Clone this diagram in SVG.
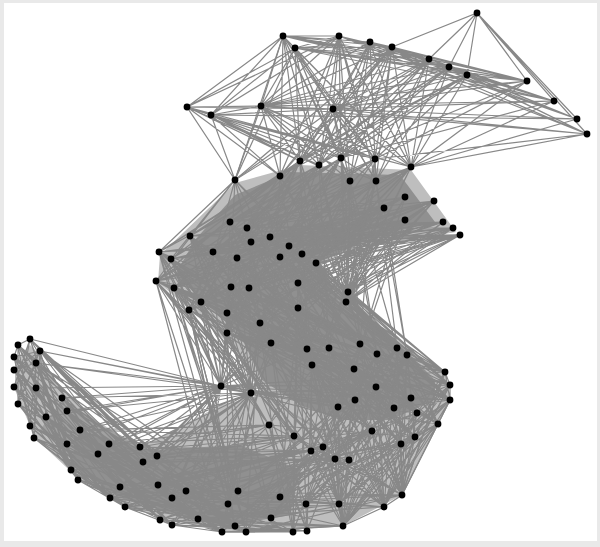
<svg xmlns="http://www.w3.org/2000/svg" width="600" height="547" viewBox="0 0 600 547">
<style>.e{fill:none;stroke:#888;stroke-width:1.2}.u{fill:#909090;stroke:none}.s{fill:#888;opacity:.55;stroke:none}circle{fill:#000;r:3.4px}</style>
<rect width="600" height="547" fill="#e9e9e9"/><rect x="4" y="3" width="593" height="538" fill="#fff"/>
<g id="connectors">
<polygon class="s" points="160,255 235,183 300,165 411,170 456,232 350,250 318,264 345,300 445,375 450,400 438,424 340,445 262,395 230,345 158,282"/>
<polygon class="s" points="62,400 140,447 221,405 262,395 340,440 438,424 402,495 343,526 222,532 125,507 40,430"/>
<polygon class="s" points="30,345 15,360 15,390 35,438 80,480 125,503 150,450 100,425 62,390 40,355"/>
<polygon class="u" points="195,240 235,195 290,172 400,175 435,222 370,238 320,262 338,300 405,350 435,380 435,400 390,420 340,420 300,405 262,380 240,335 175,275"/>
<polygon class="u" points="80,430 110,440 150,450 240,445 300,470 290,515 222,527 125,500 70,465"/>
<path class="e" d="M283 36 339 36 527 81 283 36 554 101 339 36 577 119 370 42 527 81 392 47 554 101 295 48 527 81 429 59 554 101 449 67 527 81 467 75 554 101 339 36 587 134 370 42 554 101 392 47 527 81 339 36 467 75 283 36 449 67 295 48 467 75 370 42 577 119 467 75 587 134 449 67 577 119 429 59 527 81 477 13 429 59 477 13 449 67 477 13 467 75 477 13 392 47 477 13 527 81 477 13 577 119 477 13 587 134 477 13 554 101 283 36 392 47 295 48 429 59 339 36 429 59 283 36 370 42 295 48 339 36 295 48 370 42 392 47 295 48 449 67"/>
<path class="e" d="M187 107 283 36 211 115 295 48 187 107 295 48 261 106 283 36 333 109 295 48 261 106 339 36 333 109 370 42 261 106 392 47 333 109 429 59 261 106 449 67 333 109 467 75 261 106 370 42 333 109 392 47 261 106 429 59 333 109 339 36 261 106 467 75 333 109 449 67 333 109 283 36 261 106 295 48 211 115 339 36 187 107 333 109 211 115 261 106 187 107 211 115 333 109 554 101 261 106 577 119 333 109 587 134 261 106 527 81 333 109 577 119 211 115 333 109"/>
<path class="e" d="M283 36 300 161 295 48 319 165 283 36 280 176 339 36 341 158 370 42 300 161 392 47 319 165 429 59 341 158 449 67 300 161 467 75 375 159 283 36 235 180 295 48 411 167 339 36 319 165 370 42 350 181 392 47 280 176 429 59 376 181 449 67 319 165 467 75 411 167 295 48 375 159 283 36 341 158 339 36 350 181 370 42 411 167 392 47 235 180 429 59 300 161 449 67 411 167 467 75 341 158 295 48 341 158 283 36 319 165 339 36 375 159 370 42 376 181 392 47 375 159 429 59 411 167 449 67 280 176 467 75 300 161 295 48 350 181 283 36 411 167 339 36 300 161 370 42 319 165 392 47 341 158 429 59 280 176 449 67 341 158 467 75 280 176 339 36 376 181 295 48 300 161 392 47 411 167 370 42 375 159 339 36 411 167 527 81 411 167 554 101 411 167 577 119 411 167 587 134 375 159 527 81 341 158 554 101 411 167 587 134"/>
<path class="e" d="M187 107 235 180 211 115 375 159 261 106 300 161 333 109 319 165 211 115 411 167 187 107 280 176 261 106 341 158 333 109 411 167 211 115 341 158 261 106 375 159 333 109 300 161 211 115 300 161 187 107 300 161 261 106 411 167 333 109 375 159 211 115 319 165 187 107 319 165 261 106 319 165 333 109 341 158 211 115 235 180 261 106 235 180 333 109 280 176 211 115 280 176 261 106 280 176 333 109 350 181 211 115 350 181 261 106 350 181 333 109 376 181 211 115 376 181 261 106 376 181 333 109 235 180 187 107 341 158 211 115 375 159"/>
<path class="e" d="M159 252 235 180 156 281 280 176 159 252 300 161 190 236 319 165 171 259 341 158 156 281 375 159 174 288 411 167 213 252 350 181 230 222 376 181 247 228 405 197 237 258 434 201 251 242 384 208 270 237 405 220 289 246 443 222 280 257 453 228 302 254 460 235 316 263 411 167 298 283 460 235 249 288 453 228 231 287 443 222 174 288 434 201 156 281 460 235 159 252 453 228 171 259 443 222 190 236 460 235 213 252 434 201 230 222 405 197 237 258 460 235 251 242 453 228 247 228 443 222 270 237 460 235 289 246 434 201 302 254 405 197 280 257 384 208 316 263 376 181 298 283 350 181 249 288 341 158 231 287 319 165 174 288 300 161 156 281 235 180 171 259 280 176 190 236 280 176 159 252 319 165 213 252 341 158 230 222 375 159 247 228 411 167 237 258 300 161 251 242 319 165 270 237 341 158 289 246 375 159 280 257 411 167 302 254 350 181 316 263 376 181 298 283 405 220 231 287 405 220 249 288 384 208 174 288 405 197 156 281 405 220 159 252 405 220 171 259 384 208 190 236 384 208 213 252 405 220"/>
<path class="e" d="M348 292 460 235 346 302 453 228 348 292 443 222 346 302 434 201 348 292 405 220 346 302 405 197 348 292 384 208 346 302 376 181 348 292 350 181 346 302 411 167 348 292 453 228 346 302 460 235 348 292 434 201 346 302 443 222 348 292 375 159 346 302 405 220 348 292 341 158 346 302 350 181 348 292 319 165 346 302 384 208 348 292 411 167 346 302 375 159 348 292 405 197 348 292 376 181 348 292 300 161 346 302 341 158 348 292 280 176 346 302 319 165 348 292 235 180 346 302 280 176 348 292 453 228 348 292 443 222 348 292 460 235 346 302 453 228 346 302 443 222 348 292 434 201"/>
<path class="e" d="M298 308 235 180 201 302 280 176 189 310 300 161 227 313 319 165 260 323 341 158 227 333 235 180 271 343 280 176 307 349 300 161 329 348 319 165 360 344 341 158 377 354 350 181 397 348 376 181 407 355 384 208 312 365 405 197 354 369 405 220 298 308 434 201 201 302 443 222 189 310 460 235 227 313 453 228 260 323 434 201 227 333 405 220 271 343 384 208 307 349 376 181 329 348 350 181 360 344 375 159 260 323 411 167 298 308 460 235 189 310 405 197 201 302 384 208 227 313 350 181 189 310 350 181 201 302 376 181 227 313 300 161 227 333 300 161 201 302 300 161"/>
<path class="e" d="M159 252 298 308 156 281 227 313 159 252 189 310 171 259 201 302 156 281 260 323 174 288 227 333 190 236 271 343 213 252 307 349 230 222 329 348 237 258 360 344 247 228 377 354 251 242 397 348 270 237 407 355 289 246 354 369 280 257 312 365 302 254 397 348 316 263 407 355 298 283 377 354 249 288 360 344 231 287 329 348 174 288 307 349 156 281 271 343 159 252 260 323 171 259 227 333 190 236 298 308 213 252 189 310 230 222 227 313 237 258 271 343 247 228 307 349 251 242 329 348 270 237 360 344 289 246 377 354 280 257 397 348 302 254 407 355 316 263 354 369 298 283 312 365 249 288 407 355 231 287 397 348 174 288 377 354 156 281 329 348 159 252 307 349 171 259 312 365 190 236 354 369 213 252 360 344 230 222 260 323 237 258 298 308 247 228 260 323"/>
<path class="e" d="M156 281 221 386 159 252 221 386 171 259 221 386 174 288 221 386 189 310 221 386 201 302 221 386 227 313 221 386 249 288 221 386 231 287 221 386 260 323 221 386 227 333 221 386 271 343 221 386 298 283 221 386 298 308 221 386 237 258 221 386 213 252 221 386 307 349 221 386 190 236 251 393 171 259 251 393 156 281 251 393 174 288 251 393 189 310 251 393 201 302 251 393 227 313 251 393 231 287 251 393 227 333 251 393 260 323 251 393 298 308 251 393 271 343 251 393 249 288 251 393 237 258 251 393 156 281 269 425 174 288 269 425 189 310 294 436 201 302 311 451 156 281 228 504 159 252 238 491 174 288 246 532 189 310 235 526 156 281 222 532"/>
<path class="e" d="M348 292 445 372 346 302 450 385 348 292 450 400 346 302 445 372 348 292 450 385 346 302 438 424 348 292 417 413 346 302 450 400 316 263 445 372 302 254 450 385 298 283 445 372 298 308 450 400 289 246 445 372 280 257 450 400 270 237 450 385 249 288 445 372 231 287 450 400 227 313 445 372 260 323 450 385 227 333 450 400 271 343 445 372 307 349 438 424 329 348 417 413 360 344 450 400 377 354 445 372 397 348 438 424 407 355 415 437 312 365 402 495 354 369 384 507 397 348 402 495 407 355 401 444 360 344 402 495 329 348 384 507 377 354 343 526 312 365 339 504 271 343 376 387 227 333 411 398 260 323 355 400 227 313 338 407 201 302 394 408 189 310 372 431 174 288 323 447 156 281 311 451 159 252 269 425 171 259 294 436 298 283 335 459 298 308 349 460 231 287 372 431 249 288 415 437 237 258 401 444 213 252 335 459 190 236 294 436"/>
<path class="e" d="M271 343 445 372 227 333 450 385 260 323 450 400 298 308 438 424 227 313 417 413 201 302 411 398 189 310 394 408 227 333 355 400 271 343 376 387 307 349 411 398 329 348 394 408 360 344 417 413 377 354 338 407 397 348 355 400 407 355 372 431 312 365 394 408 354 369 415 437 307 349 401 444 329 348 372 431 360 344 338 407 377 354 323 447 397 348 335 459 407 355 349 460 312 365 311 451 354 369 294 436 307 349 269 425 329 348 311 451 360 344 323 447 377 354 401 444 397 348 415 437 407 355 438 424 354 369 402 495 312 365 384 507 307 349 343 526 329 348 339 504 360 344 306 504 377 354 280 497 397 348 271 518 407 355 343 526 354 369 293 532 312 365 307 531 271 343 228 504 227 333 238 491 260 323 280 497 298 308 306 504 227 313 271 518 201 302 235 526 189 310 246 532 260 323 222 532 271 343 293 532 298 308 307 531 227 333 343 526"/>
<path class="e" d="M445 372 221 386 450 385 251 393 450 400 221 386 438 424 251 393 417 413 221 386 415 437 269 425 402 495 294 436 384 507 311 451 343 526 323 447 339 504 335 459 306 504 349 460 402 495 372 431 384 507 401 444 343 526 415 437 339 504 438 424 402 495 450 400 384 507 417 413 402 495 411 398 343 526 394 408 402 495 376 387 384 507 355 400 343 526 338 407 339 504 376 387 306 504 411 398 280 497 394 408 271 518 355 400 238 491 338 407 228 504 372 431 235 526 323 447 222 532 311 451 246 532 294 436 293 532 269 425 307 531 335 459 343 526 349 460 339 504 372 431 306 504 401 444 280 497 415 437 271 518 438 424 343 526 417 413 339 504 450 385 384 507 445 372 402 495 438 424 384 507 401 444 402 495 415 437 384 507 372 431 343 526 349 460 384 507 335 459 402 495 323 447 343 526 311 451 339 504"/>
<path class="e" d="M221 386 30 339 221 386 40 351 221 386 36 363 221 386 36 388 221 386 62 398 221 386 67 411 221 386 80 430 221 386 109 444 221 386 140 447 221 386 157 456 221 386 143 462 221 386 98 454 221 386 67 444 221 386 120 487 221 386 158 485 221 386 186 491 221 386 172 498 221 386 46 417 221 386 110 498 221 386 125 507 221 386 160 520 221 386 198 519 251 393 36 363 251 393 40 351 251 393 62 398 251 393 80 430 251 393 67 411 251 393 109 444 251 393 140 447 251 393 98 454 251 393 157 456 251 393 143 462 251 393 120 487 251 393 158 485 251 393 186 491 251 393 172 498 251 393 198 519 251 393 172 525 269 425 140 447 269 425 109 444 294 436 157 456 294 436 143 462 311 451 120 487 323 447 158 485 269 425 80 430 294 436 98 454 311 451 71 470"/>
<path class="e" d="M30 339 140 447 40 351 143 462 30 339 120 487 18 345 109 444 40 351 157 456 14 357 98 454 36 363 158 485 14 370 120 487 14 387 110 498 36 388 125 507 18 404 172 498 62 398 160 520 67 411 172 525 46 417 198 519 30 426 186 491 34 438 172 525 80 430 158 485 67 444 198 519 109 444 222 532 98 454 235 526 140 447 246 532 71 470 222 532 78 480 228 504 120 487 271 518 110 498 238 491 125 507 280 497 158 485 293 532 160 520 306 504 172 525 307 531 198 519 343 526 186 491 339 504 172 498 293 532 157 456 271 518 143 462 246 532 140 447 235 526 109 444 228 504 98 454 238 491 80 430 222 532 67 411 246 532 62 398 235 526 46 417 222 532 36 388 228 504 36 363 238 491 40 351 222 532 30 339 235 526 18 345 198 519 14 357 172 525 14 370 160 520 14 387 172 498 18 404 186 491 30 426 158 485 34 438 222 532 71 470 235 526 78 480 246 532 110 498 271 518 125 507 293 532 160 520 343 526 172 525 339 504 198 519 307 531 222 532 343 526 246 532 402 495 280 497 438 424 306 504 450 400 271 518 402 495 228 504 384 507 238 491 417 413 186 491 415 437 172 498 401 444 158 485 372 431 157 456 349 460 143 462 335 459 140 447 311 451 120 487 323 447 110 498 294 436 125 507 372 431 160 520 349 460 172 525 335 459 198 519 384 507 186 491 402 495"/>
<path class="e" d="M30 339 18 345 14 357 40 351 14 370 36 363 18 404 30 339 14 387 40 351 18 404 18 345 34 438 14 357 30 426 36 363 34 438 40 351 46 417 14 370 71 470 18 345 67 444 14 387 78 480 30 339 71 470 36 388 78 480 40 351 67 444 36 363 71 470 14 357 78 480 18 404 110 498 30 426 125 507 34 438 110 498 71 470 125 507 78 480 172 525 125 507 222 532 172 525 293 532 222 532 343 526 384 507 402 495 438 424 450 400 450 385 445 372 450 400 402 495 445 372 384 507 450 385 343 526 438 424 401 444 450 400 415 437 445 372 417 413 450 385 394 408 450 400 411 398"/>
</g>
<g id="n1"><circle cx="477" cy="13"/></g><g id="n2"><circle cx="283" cy="36"/></g><g id="n3"><circle cx="339" cy="36"/></g><g id="n4"><circle cx="370" cy="42"/></g><g id="n5"><circle cx="392" cy="47"/></g><g id="n6"><circle cx="295" cy="48"/></g><g id="n7"><circle cx="429" cy="59"/></g><g id="n8"><circle cx="449" cy="67"/></g><g id="n9"><circle cx="467" cy="75"/></g><g id="n10"><circle cx="527" cy="81"/></g><g id="n11"><circle cx="554" cy="101"/></g><g id="n12"><circle cx="577" cy="119"/></g><g id="n13"><circle cx="587" cy="134"/></g><g id="n14"><circle cx="187" cy="107"/></g><g id="n15"><circle cx="211" cy="115"/></g><g id="n16"><circle cx="261" cy="106"/></g><g id="n17"><circle cx="333" cy="109"/></g><g id="n18"><circle cx="300" cy="161"/></g><g id="n19"><circle cx="319" cy="165"/></g><g id="n20"><circle cx="341" cy="158"/></g><g id="n21"><circle cx="375" cy="159"/></g><g id="n22"><circle cx="411" cy="167"/></g><g id="n23"><circle cx="235" cy="180"/></g><g id="n24"><circle cx="280" cy="176"/></g><g id="n25"><circle cx="350" cy="181"/></g><g id="n26"><circle cx="376" cy="181"/></g><g id="n27"><circle cx="405" cy="197"/></g><g id="n28"><circle cx="434" cy="201"/></g><g id="n29"><circle cx="384" cy="208"/></g><g id="n30"><circle cx="405" cy="220"/></g><g id="n31"><circle cx="443" cy="222"/></g><g id="n32"><circle cx="453" cy="228"/></g><g id="n33"><circle cx="460" cy="235"/></g><g id="n34"><circle cx="230" cy="222"/></g><g id="n35"><circle cx="247" cy="228"/></g><g id="n36"><circle cx="190" cy="236"/></g><g id="n37"><circle cx="251" cy="242"/></g><g id="n38"><circle cx="270" cy="237"/></g><g id="n39"><circle cx="289" cy="246"/></g><g id="n40"><circle cx="302" cy="254"/></g><g id="n41"><circle cx="316" cy="263"/></g><g id="n42"><circle cx="280" cy="257"/></g><g id="n43"><circle cx="237" cy="258"/></g><g id="n44"><circle cx="213" cy="252"/></g><g id="n45"><circle cx="159" cy="252"/></g><g id="n46"><circle cx="171" cy="259"/></g><g id="n47"><circle cx="156" cy="281"/></g><g id="n48"><circle cx="174" cy="288"/></g><g id="n49"><circle cx="231" cy="287"/></g><g id="n50"><circle cx="249" cy="288"/></g><g id="n51"><circle cx="298" cy="283"/></g><g id="n52"><circle cx="348" cy="292"/></g><g id="n53"><circle cx="346" cy="302"/></g><g id="n54"><circle cx="298" cy="308"/></g><g id="n55"><circle cx="201" cy="302"/></g><g id="n56"><circle cx="189" cy="310"/></g><g id="n57"><circle cx="227" cy="313"/></g><g id="n58"><circle cx="260" cy="323"/></g><g id="n59"><circle cx="227" cy="333"/></g><g id="n60"><circle cx="271" cy="343"/></g><g id="n61"><circle cx="307" cy="349"/></g><g id="n62"><circle cx="329" cy="348"/></g><g id="n63"><circle cx="360" cy="344"/></g><g id="n64"><circle cx="377" cy="354"/></g><g id="n65"><circle cx="397" cy="348"/></g><g id="n66"><circle cx="407" cy="355"/></g><g id="n67"><circle cx="312" cy="365"/></g><g id="n68"><circle cx="354" cy="369"/></g><g id="n69"><circle cx="445" cy="372"/></g><g id="n70"><circle cx="450" cy="385"/></g><g id="n71"><circle cx="450" cy="400"/></g><g id="n72"><circle cx="376" cy="387"/></g><g id="n73"><circle cx="411" cy="398"/></g><g id="n74"><circle cx="355" cy="400"/></g><g id="n75"><circle cx="338" cy="407"/></g><g id="n76"><circle cx="394" cy="408"/></g><g id="n77"><circle cx="417" cy="413"/></g><g id="n78"><circle cx="438" cy="424"/></g><g id="n79"><circle cx="221" cy="386"/></g><g id="n80"><circle cx="251" cy="393"/></g><g id="n81"><circle cx="269" cy="425"/></g><g id="n82"><circle cx="294" cy="436"/></g><g id="n83"><circle cx="372" cy="431"/></g><g id="n84"><circle cx="415" cy="437"/></g><g id="n85"><circle cx="401" cy="444"/></g><g id="n86"><circle cx="323" cy="447"/></g><g id="n87"><circle cx="311" cy="451"/></g><g id="n88"><circle cx="335" cy="459"/></g><g id="n89"><circle cx="349" cy="460"/></g><g id="n90"><circle cx="402" cy="495"/></g><g id="n91"><circle cx="384" cy="507"/></g><g id="n92"><circle cx="238" cy="491"/></g><g id="n93"><circle cx="280" cy="497"/></g><g id="n94"><circle cx="306" cy="504"/></g><g id="n95"><circle cx="339" cy="504"/></g><g id="n96"><circle cx="228" cy="504"/></g><g id="n97"><circle cx="271" cy="518"/></g><g id="n98"><circle cx="343" cy="526"/></g><g id="n99"><circle cx="235" cy="526"/></g><g id="n100"><circle cx="222" cy="532"/></g><g id="n101"><circle cx="246" cy="532"/></g><g id="n102"><circle cx="293" cy="532"/></g><g id="n103"><circle cx="307" cy="531"/></g><g id="n104"><circle cx="30" cy="339"/></g><g id="n105"><circle cx="18" cy="345"/></g><g id="n106"><circle cx="40" cy="351"/></g><g id="n107"><circle cx="14" cy="357"/></g><g id="n108"><circle cx="36" cy="363"/></g><g id="n109"><circle cx="14" cy="370"/></g><g id="n110"><circle cx="14" cy="387"/></g><g id="n111"><circle cx="36" cy="388"/></g><g id="n112"><circle cx="18" cy="404"/></g><g id="n113"><circle cx="62" cy="398"/></g><g id="n114"><circle cx="67" cy="411"/></g><g id="n115"><circle cx="46" cy="417"/></g><g id="n116"><circle cx="30" cy="426"/></g><g id="n117"><circle cx="34" cy="438"/></g><g id="n118"><circle cx="80" cy="430"/></g><g id="n119"><circle cx="67" cy="444"/></g><g id="n120"><circle cx="109" cy="444"/></g><g id="n121"><circle cx="98" cy="454"/></g><g id="n122"><circle cx="140" cy="447"/></g><g id="n123"><circle cx="157" cy="456"/></g><g id="n124"><circle cx="143" cy="462"/></g><g id="n125"><circle cx="71" cy="470"/></g><g id="n126"><circle cx="78" cy="480"/></g><g id="n127"><circle cx="120" cy="487"/></g><g id="n128"><circle cx="110" cy="498"/></g><g id="n129"><circle cx="125" cy="507"/></g><g id="n130"><circle cx="158" cy="485"/></g><g id="n131"><circle cx="172" cy="498"/></g><g id="n132"><circle cx="186" cy="491"/></g><g id="n133"><circle cx="160" cy="520"/></g><g id="n134"><circle cx="172" cy="525"/></g><g id="n135"><circle cx="198" cy="519"/></g>
</svg>
